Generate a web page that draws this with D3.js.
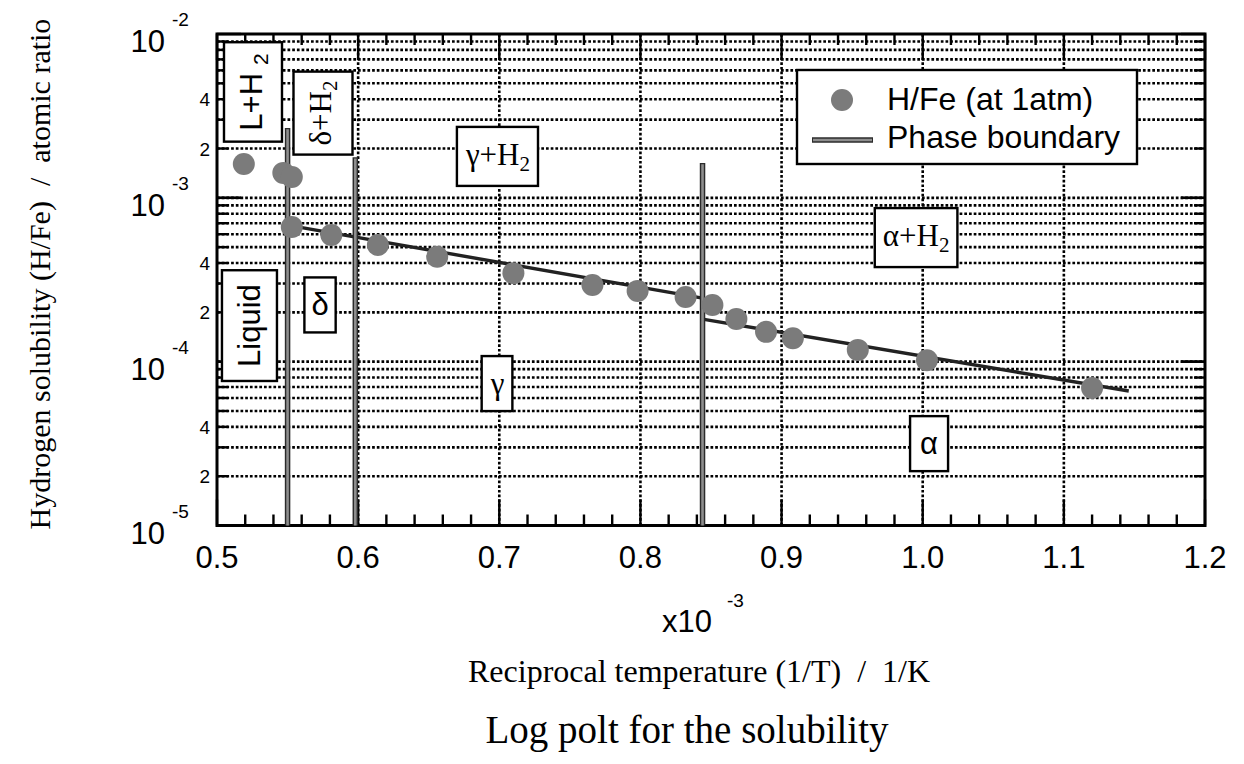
<!DOCTYPE html>
<html><head><meta charset="utf-8">
<script src="https://cdn.jsdelivr.net/npm/d3@7"></script>
<style>
body{margin:0;background:#fff}
svg{display:block}
</style></head><body>
<svg id="chart" width="1244" height="764"></svg>
<script>
// Reciprocal temperature (x10^-3 1/K) of each measurement
const invTemp = [0.519, 0.547, 0.553, 0.553, 0.581, 0.614, 0.656, 0.710, 0.766, 0.798,
                 0.832, 0.851, 0.868, 0.889, 0.908, 0.954, 1.003, 1.120];
// Hydrogen solubility H/Fe (atomic ratio) at 1 atm
const solubility = [1.61e-3, 1.42e-3, 1.34e-3, 6.63e-4, 5.93e-4, 5.15e-4, 4.37e-4, 3.47e-4, 2.94e-4, 2.70e-4,
                    2.48e-4, 2.22e-4, 1.82e-4, 1.52e-4, 1.39e-4, 1.18e-4, 1.02e-4, 6.90e-5];

// Fitted solubility lines: delta/gamma range and alpha range
const fitStartX = [0.550, 0.844];
const fitStartY = [6.82e-4, 1.82e-4];
const fitEndX   = [0.844, 1.146];
const fitEndY   = [2.44e-4, 6.62e-5];

// Phase transitions: position and upper end of each boundary line
const boundaryX   = [0.550, 0.598, 0.844];
const boundaryTop = [2.67e-3, 1.77e-3, 1.63e-3];

// Axis ticks
const xTickValues = [0.5, 0.6, 0.7, 0.8, 0.9, 1.0, 1.1, 1.2];
const xTickLabels = ["0.5", "0.6", "0.7", "0.8", "0.9", "1.0", "1.1", "1.2"];
const yDecades    = [1e-5, 1e-4, 1e-3, 1e-2];
const yExponents  = ["-5", "-4", "-3", "-2"];
const yMinorLabelled = [2, 4];

// Phase region labels
const phaseText  = ["L+H|2", "δ+H|2", "γ+H|2", "α+H|2", "Liquid", "δ", "γ", "α"];
const phaseAtX   = [0.5255, 0.5751, 0.6987, 0.9953, 0.5230, 0.5730, 0.6984, 1.0045];
const phaseAtY   = [4.43e-3, 3.29e-3, 1.79e-3, 5.72e-4, 1.66e-4, 2.22e-4, 7.35e-5, 3.16e-5];

// Legend entries
const legendLabels = ["H/Fe (at 1atm)", "Phase boundary"];

const SANS = "'Liberation Sans', Arial, Helvetica, sans-serif";
const SERIF = "'Liberation Serif', 'Times New Roman', Times, serif";
const phaseStyle = [
  {font: SANS,  rot: true,  padA: 11, subGap: 8},
  {font: SERIF, rot: true,  padA: 9,  subGap: 0},
  {font: SERIF, rot: false, padA: 8,  subGap: 0},
  {font: SERIF, rot: false, padA: 8,  subGap: 0},
  {font: SANS,  rot: true,  padA: 14, subGap: 0},
  {font: SANS,  rot: false, padA: 7,  subGap: 0},
  {font: SERIF, rot: false, padA: 8,  subGap: 0},
  {font: SANS,  rot: false, padA: 10, subGap: 0}
];

const svg = d3.select("#chart");
const pLeft = 217, pRight = 1205, pTop = 34, pBottom = 525.5;

const x = d3.scaleLinear().domain([0.5, 1.2]).range([pLeft, pRight]);
const y = d3.scaleLog().domain([1e-5, 1e-2]).range([pBottom, pTop]);

const grid = svg.append("g").attr("stroke", "#000").attr("stroke-width", 2.6)
  .attr("stroke-dasharray", "2.7,2").attr("fill", "none");

// horizontal log grid (1..9 per decade)
const yGridVals = [];
for (let e = -5; e < -2; e++) for (let m = 1; m < 10; m++) {
  const v = m * Math.pow(10, e);
  if (v > 1e-5 * 1.0001 && v < 1e-2 * 0.9999) yGridVals.push(v);
}
grid.selectAll("line.h").data(yGridVals).join("line").attr("class", "h")
  .attr("x1", pLeft).attr("x2", pRight)
  .attr("y1", d => y(d)).attr("y2", d => y(d));
grid.selectAll("line.v").data(xTickValues.slice(1, -1)).join("line").attr("class", "v")
  .attr("y1", pTop).attr("y2", pBottom)
  .attr("x1", d => x(d)).attr("x2", d => x(d));

// inward ticks on all four sides
const ticks = svg.append("g").attr("stroke", "#000").attr("stroke-width", 2.4);
const xMinor = d3.range(0, 36).map(i => 0.5 + i * 0.02);
xMinor.forEach((v, i) => {
  const len = (i % 5 === 0) ? 26 : 11;
  ticks.append("line").attr("x1", x(v)).attr("x2", x(v)).attr("y1", pBottom).attr("y2", pBottom - len);
  ticks.append("line").attr("x1", x(v)).attr("x2", x(v)).attr("y1", pTop).attr("y2", pTop + len);
});
const yTickVals = yGridVals.concat(yDecades);
yTickVals.forEach(v => {
  const major = yDecades.some(d => Math.abs(d - v) / d < 1e-6);
  const len = major ? 24 : 11;
  ticks.append("line").attr("x1", pLeft).attr("x2", pLeft + len).attr("y1", y(v)).attr("y2", y(v));
  ticks.append("line").attr("x1", pRight).attr("x2", pRight - len).attr("y1", y(v)).attr("y2", y(v));
});

// frame
svg.append("rect").attr("x", pLeft).attr("y", pTop).attr("width", pRight - pLeft).attr("height", pBottom - pTop)
  .attr("fill", "none").attr("stroke", "#000").attr("stroke-width", 3);

// fitted solubility lines
const line = d3.line().x(d => x(d[0])).y(d => y(d[1]));
const fitData = fitStartX.map((s, i) => [[s, fitStartY[i]], [fitEndX[i], fitEndY[i]]]);
svg.append("g").selectAll("path").data(fitData).join("path")
  .attr("d", line).attr("fill", "none").attr("stroke", "#222").attr("stroke-width", 3.4);

// phase boundary lines (grey core with dark edge)
const bnd = svg.append("g");
boundaryX.forEach((bx, i) => {
  bnd.append("line").attr("x1", x(bx)).attr("x2", x(bx)).attr("y1", y(boundaryTop[i])).attr("y2", y(1e-5))
    .attr("stroke", "#2b2b2b").attr("stroke-width", 5.5);
  bnd.append("line").attr("x1", x(bx)).attr("x2", x(bx)).attr("y1", y(boundaryTop[i]) + 1.2).attr("y2", y(1e-5))
    .attr("stroke", "#8e8e8e").attr("stroke-width", 2.6);
});

// measurements
svg.append("g").selectAll("circle").data(invTemp).join("circle")
  .attr("cx", d => x(d)).attr("cy", (d, i) => y(solubility[i])).attr("r", 11)
  .attr("fill", "#7b7b7b");

// phase labels in boxes
phaseText.forEach((t, i) => {
  const st = phaseStyle[i];
  const g = svg.append("g");
  const box = g.append("rect").attr("fill", "#fff").attr("stroke", "#000").attr("stroke-width", 2.4);
  const parts = t.split("|");
  const txt = g.append("text").attr("font-family", st.font).attr("font-size", 31).attr("fill", "#000");
  txt.append("tspan").text(parts[0]);
  if (parts[1]) {
    txt.append("tspan").text(parts[1]).attr("font-size", 21).attr("dy", 6).attr("dx", st.subGap);
  }
  const bb = txt.node().getBBox();
  const w = bb.width + 2 * st.padA, h = bb.height + 20;
  box.attr("x", bb.x - st.padA).attr("y", bb.y - 10).attr("width", w).attr("height", h);
  const cx = bb.x + bb.width / 2, cy = bb.y + bb.height / 2;
  const px = x(phaseAtX[i]), py = y(phaseAtY[i]);
  g.attr("transform", `translate(${px},${py}) rotate(${st.rot ? -90 : 0}) translate(${-cx},${-cy})`);
});

// legend
const lg = svg.append("g");
lg.append("rect").attr("x", 797).attr("y", 70).attr("width", 340).attr("height", 94)
  .attr("fill", "#fff").attr("stroke", "#000").attr("stroke-width", 2.4);
lg.append("circle").attr("cx", 842).attr("cy", 100).attr("r", 11).attr("fill", "#7b7b7b");
lg.append("line").attr("x1", 812).attr("x2", 873).attr("y1", 140).attr("y2", 140)
  .attr("stroke", "#2b2b2b").attr("stroke-width", 5.5);
lg.append("line").attr("x1", 813).attr("x2", 872).attr("y1", 140).attr("y2", 140)
  .attr("stroke", "#8e8e8e").attr("stroke-width", 2.6);
lg.selectAll("text").data(legendLabels).join("text")
  .attr("x", 887).attr("y", (d, i) => i === 0 ? 110 : 148)
  .attr("font-family", SANS).attr("font-size", 32).text(d => d);

// x tick labels
svg.append("g").selectAll("text").data(xTickValues).join("text")
  .attr("x", d => x(d)).attr("y", 568).attr("text-anchor", "middle")
  .attr("font-family", SANS).attr("font-size", 31).text((d, i) => xTickLabels[i]);

// y tick labels: decades as 10^n, plus 2 and 4 within each decade
const yl = svg.append("g").attr("font-family", SANS);
yDecades.forEach((v, i) => {
  yl.append("text").attr("x", 165).attr("y", y(v) + 18).attr("text-anchor", "end")
    .attr("font-size", 31).text("10");
  yl.append("text").attr("x", 172).attr("y", y(v) - 8).attr("font-size", 19).text(yExponents[i]);
});
yDecades.slice(0, -1).forEach(v => {
  yMinorLabelled.forEach(m => {
    yl.append("text").attr("x", 210).attr("y", y(v * m) + 7).attr("text-anchor", "end")
      .attr("font-size", 19).text(String(m));
  });
});

// x axis multiplier
svg.append("text").attr("x", 662).attr("y", 632).attr("font-family", SANS).attr("font-size", 31).text("x10");
svg.append("text").attr("x", 727).attr("y", 607).attr("font-family", SANS).attr("font-size", 19).text("-3");

// axis titles and caption
svg.append("text").attr("x", 699).attr("y", 682).attr("text-anchor", "middle")
  .attr("font-family", SERIF).attr("font-size", 32).attr("xml:space", "preserve")
  .text("Reciprocal temperature (1/T)  /  1/K");
svg.append("text").attr("transform", "translate(50,274) rotate(-90)").attr("text-anchor", "middle")
  .attr("font-family", SERIF).attr("font-size", 30).attr("xml:space", "preserve")
  .text("Hydrogen solubility (H/Fe)  /  atomic ratio");
svg.append("text").attr("x", 687).attr("y", 743).attr("text-anchor", "middle")
  .attr("font-family", SERIF).attr("font-size", 39).text("Log polt for the solubility");
</script>
</body></html>
